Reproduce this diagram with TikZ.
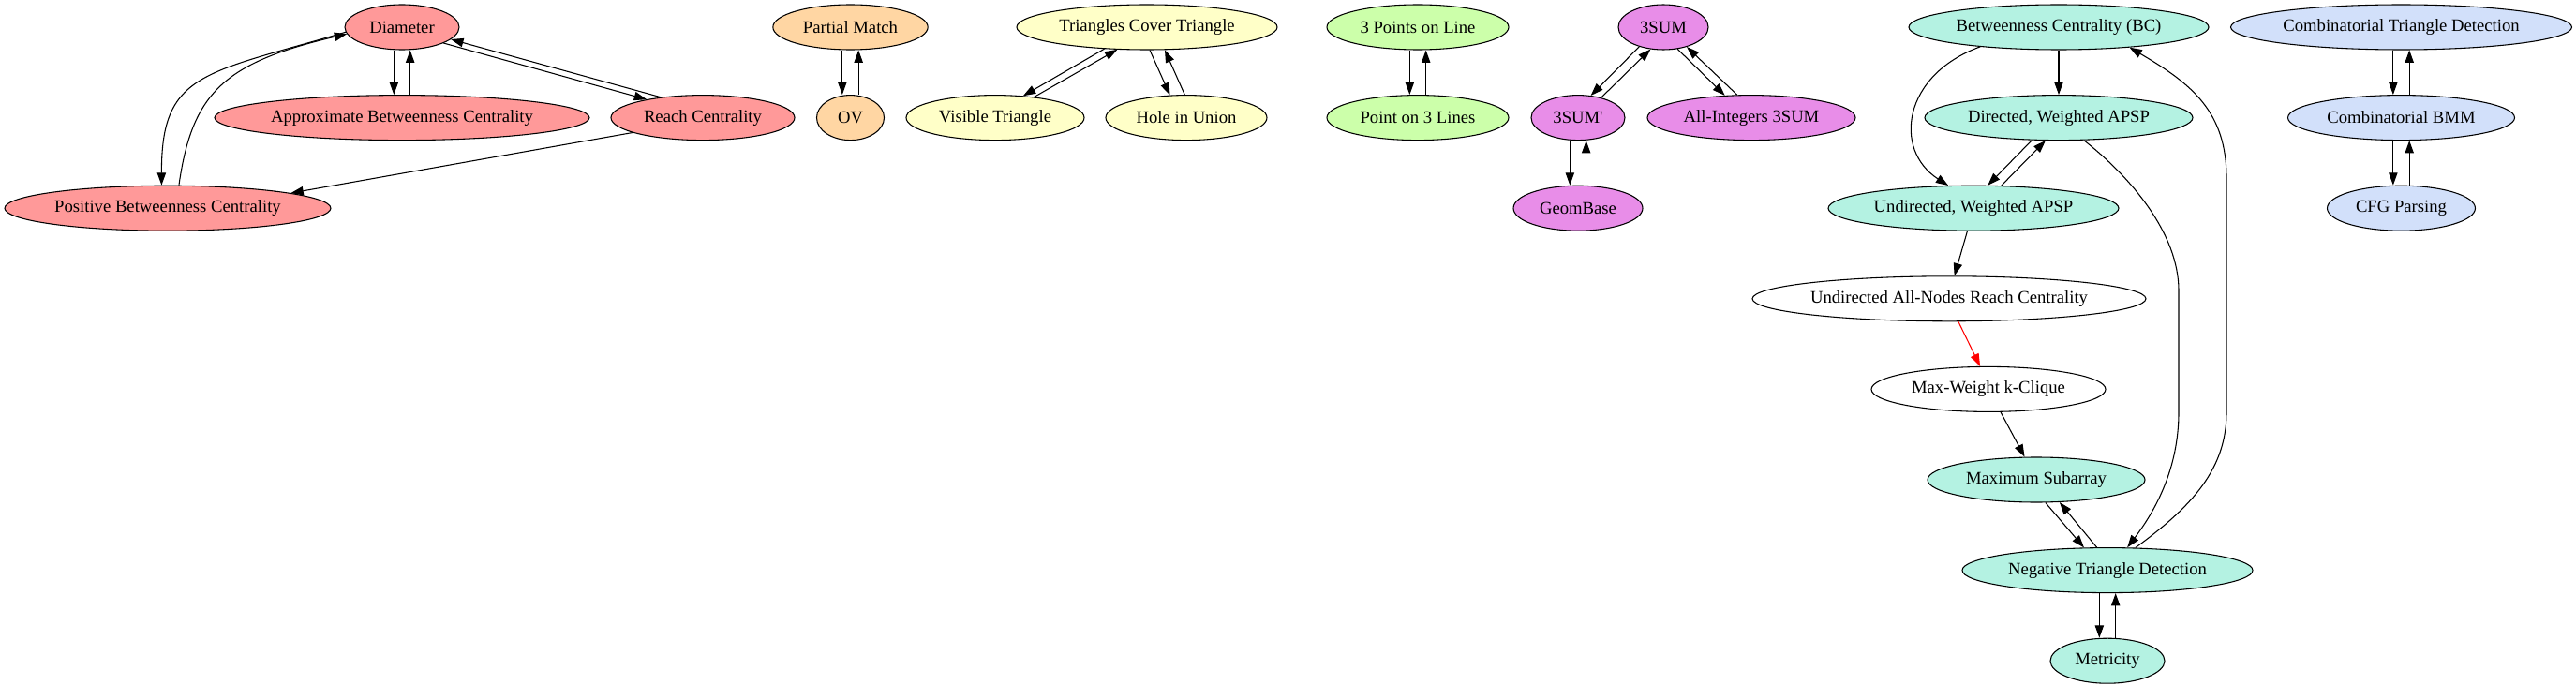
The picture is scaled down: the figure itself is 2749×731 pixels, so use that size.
\documentclass[tikz,border=0pt]{standalone}
\usepackage{fontspec}
\setmainfont{Liberation Serif}
\usetikzlibrary{shapes.geometric,arrows.meta}
\definecolor{cred}{HTML}{FF9999}
\definecolor{corange}{HTML}{FFD6A3}
\definecolor{cyellow}{HTML}{FFFFC8}
\definecolor{cgreen}{HTML}{CCFFAA}
\definecolor{cmag}{HTML}{E88DE8}
\definecolor{cteal}{HTML}{B4F2E2}
\definecolor{cblue}{HTML}{D2E0FA}
\definecolor{cedge}{HTML}{FF0000}
\begin{document}
\begin{tikzpicture}[x=0.75pt,y=-0.75pt,
  nd/.style={ellipse,draw,line width=0.8pt,inner sep=0pt,minimum height=36pt,
    font=\fontsize{14}{16}\selectfont},
  e/.style={draw,line width=0.8pt,-{Triangle[length=10pt,width=7pt]}},
]
\fill[white] (0,0) rectangle (2749,731);
\useasboundingbox (0,0) rectangle (2749,731);

% red group
\node[nd,fill=cred,minimum width=91.5pt] (diam) at (429,29) {Diameter};
\node[nd,fill=cred,minimum width=300pt] (abc) at (429,125.6) {Approximate Betweenness Centrality};
\node[nd,fill=cred,minimum width=147pt] (reach) at (750,125.6) {Reach Centrality};
\node[nd,fill=cred,minimum width=261pt] (pbc) at (179,222.2) {Positive Betweenness Centrality};
% orange
\node[nd,fill=corange,minimum width=124pt] (pm) at (907.5,29) {Partial Match};
\node[nd,fill=corange,minimum width=54pt] (ov) at (907.5,125.6) {OV};
% yellow
\node[nd,fill=cyellow,minimum width=208.5pt] (tct) at (1224,29) {Triangles Cover Triangle};
\node[nd,fill=cyellow,minimum width=142.5pt] (vt) at (1062,125.6) {Visible Triangle};
\node[nd,fill=cyellow,minimum width=129pt] (hiu) at (1266,125.6) {Hole in Union};
% green
\node[nd,fill=cgreen,minimum width=145.5pt] (p3l) at (1513,29) {3 Points on Line};
\node[nd,fill=cgreen,minimum width=145.5pt] (po3l) at (1513,125.6) {Point on 3 Lines};
% magenta
\node[nd,fill=cmag,minimum width=72pt] (sum) at (1775,29) {3SUM};
\node[nd,fill=cmag,minimum width=75pt] (sump) at (1684,125.6) {3SUM\textquotesingle};
\node[nd,fill=cmag,minimum width=166.5pt] (ai) at (1869,125.6) {All-Integers 3SUM};
\node[nd,fill=cmag,minimum width=103.5pt] (geom) at (1684,222.2) {GeomBase};
% teal
\node[nd,fill=cteal,minimum width=240pt] (bc) at (2197,29) {Betweenness Centrality (BC)};
\node[nd,fill=cteal,minimum width=214.5pt] (dapsp) at (2197,125.6) {Directed, Weighted APSP};
\node[nd,fill=cteal,minimum width=232.5pt] (uapsp) at (2106,222.2) {Undirected, Weighted APSP};
\node[nd,fill=white,minimum width=315pt] (uanrc) at (2080,318.8) {Undirected All-Nodes Reach Centrality};
\node[nd,fill=white,minimum width=187.5pt] (mwk) at (2122,415.4) {Max-Weight k-Clique};
\node[nd,fill=cteal,minimum width=174pt] (msub) at (2173,512) {Maximum Subarray};
\node[nd,fill=cteal,minimum width=232.5pt] (ntd) at (2249,608.6) {Negative Triangle Detection};
\node[nd,fill=cteal,minimum width=91.5pt] (met) at (2249,705.2) {Metricity};
% blue
\node[nd,fill=cblue,minimum width=273pt] (ctd) at (2562.5,29) {Combinatorial Triangle Detection};
\node[nd,fill=cblue,minimum width=181.5pt] (cbmm) at (2562.5,125.6) {Combinatorial BMM};
\node[nd,fill=cblue,minimum width=118.5pt] (cfg) at (2562.5,222.2) {CFG Parsing};

% red edges
\draw[e] ([xshift=-6.5pt]diam.south) -- ([xshift=-6.5pt]abc.north);
\draw[e] ([xshift=6.5pt]abc.north) -- ([xshift=6.5pt]diam.south);
\draw[e] (diam.185) .. controls (217,79) and (172,77) .. (pbc.105.6);
\draw[e] (pbc.64.4) .. controls (205,99) and (239,67) .. (diam.187.6);
\draw[e] (diam.-21) -- (reach.162.8);
\draw[e] (reach.154.7) -- (diam.-14.3);
\draw[e] (reach.192.8) -- (pbc.7.9);
% orange edges
\draw[e] ([xshift=-6.5pt]pm.south) -- ([xshift=-6.5pt]ov.north);
\draw[e] ([xshift=6.5pt]ov.north) -- ([xshift=6.5pt]pm.south);
% yellow edges
\draw[e] (tct.207.6) -- (vt.38.4);
\draw[e] (vt.28.7) -- (tct.217.7);
\draw[e] (tct.277) -- (hiu.126);
\draw[e] (hiu.94.6) -- (tct.308.4);
% green edges
\draw[e] ([xshift=-6.5pt]p3l.south) -- ([xshift=-6.5pt]po3l.north);
\draw[e] ([xshift=6.5pt]po3l.north) -- ([xshift=6.5pt]p3l.south);
% magenta edges
\draw[e] (sum.219.2) -- (sump.60.4);
\draw[e] (sump.41) -- (sum.240);
\draw[e] (sum.303) -- (ai.140.4);
\draw[e] (ai.122) -- (sum.-40.4);
\draw[e] ([xshift=-6.5pt]sump.south) -- ([xshift=-6.5pt]geom.north);
\draw[e] ([xshift=6.5pt]geom.north) -- ([xshift=6.5pt]sump.south);
% teal edges
\draw[e] (bc.south) -- (dapsp.north);
\draw[e] (bc.194.5) .. controls (2030,80) and (2020,160) .. (uapsp.138);
\draw[e] (dapsp.220.3) -- (uapsp.58.6);
\draw[e] (uapsp.39) -- (dapsp.240.4);
\draw[e] (dapsp.-42.2) .. controls (2275,190) and (2325,250) .. (2325,310)
   -- (2325,440) .. controls (2325,500) and (2300,545) .. (ntd.49.2);
\draw[e] (ntd.39.5) .. controls (2340,540) and (2376,500) .. (2376,440)
   -- (2376,190) .. controls (2376,120) and (2340,90) .. (bc.-16);
\draw[e] (uapsp.255) -- (uanrc.77);
\draw[e,cedge] (uanrc.-68.4) -- (mwk.110.7);
\draw[e] (mwk.-62) -- (msub.117.5);
\draw[e] (msub.-68) -- (ntd.136.5);
\draw[e] (ntd.115) -- (msub.-44);
\draw[e] ([xshift=-6.5pt]ntd.south) -- ([xshift=-6.5pt]met.north);
\draw[e] ([xshift=6.5pt]met.north) -- ([xshift=6.5pt]ntd.south);
% blue edges
\draw[e] ([xshift=-6.5pt]ctd.south) -- ([xshift=-6.5pt]cbmm.north);
\draw[e] ([xshift=6.5pt]cbmm.north) -- ([xshift=6.5pt]ctd.south);
\draw[e] ([xshift=-6.5pt]cbmm.south) -- ([xshift=-6.5pt]cfg.north);
\draw[e] ([xshift=6.5pt]cfg.north) -- ([xshift=6.5pt]cbmm.south);
\end{tikzpicture}
\end{document}
